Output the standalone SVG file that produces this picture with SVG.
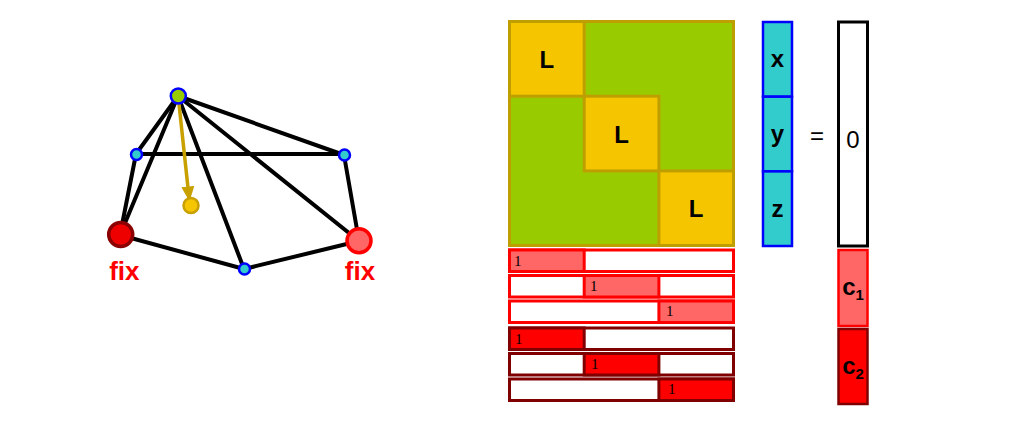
<svg xmlns="http://www.w3.org/2000/svg" width="1014" height="431" viewBox="0 0 1014 431">
<style>
.edge{stroke:#000;stroke-width:4;stroke-linecap:round;fill:none}
.vtx{fill:#33cccc;stroke:#0000ff;stroke-width:2.5}
.lbl{font-family:"Liberation Sans",Arial,sans-serif;font-weight:bold;text-anchor:middle}
.fix{fill:#ff0000;font-size:26px}
.blk{stroke:#bf9f00;stroke-width:3}
.one{font-family:"Liberation Serif","Times New Roman",serif;font-size:15px;fill:#000}
.r1{stroke:#ff0000;stroke-width:3;fill:#fff}
.r1f{stroke:#ff0000;stroke-width:3;fill:#ff6666}
.r2{stroke:#800000;stroke-width:3;fill:#fff}
.r2f{stroke:#800000;stroke-width:3;fill:#ff0000}
</style>
<defs>
<marker id="ah" viewBox="0 0 10 10" refX="9" refY="5" markerWidth="15" markerHeight="13" orient="auto" markerUnits="userSpaceOnUse" preserveAspectRatio="none">
<path d="M0,0 L10,5 L0,10 z" fill="#c8a000"/>
</marker>
</defs>
<rect width="1014" height="431" fill="#fff"/>
<g id="connectors">
<line class="edge" x1="178" y1="96" x2="136" y2="154"/>
<line class="edge" x1="178" y1="96" x2="120" y2="235"/>
<line class="edge" x1="178" y1="96" x2="244" y2="269"/>
<line class="edge" x1="178" y1="96" x2="359" y2="241"/>
<line class="edge" x1="178" y1="96" x2="344" y2="155"/>
<line class="edge" x1="136" y1="154" x2="344" y2="154"/>
<line class="edge" x1="136" y1="154" x2="120" y2="235"/>
<line class="edge" x1="344" y1="155" x2="359" y2="241"/>
<line class="edge" x1="120" y1="235" x2="244" y2="269"/>
<line class="edge" x1="244" y1="269" x2="359" y2="241"/>
<line x1="179" y1="104" x2="189.3" y2="200" stroke="#c8a000" stroke-width="3.5" marker-end="url(#ah)"/>
</g>
<g id="n-top"><circle cx="178.3" cy="96" r="7.5" fill="#99cc00" stroke="#0000ff" stroke-width="2.5"/></g>
<g id="n-leftmid"><circle class="vtx" cx="136.5" cy="154.5" r="5.5"/></g>
<g id="n-rightmid"><circle class="vtx" cx="344.5" cy="155" r="5.5"/></g>
<g id="n-bottom"><circle class="vtx" cx="244.5" cy="269" r="5.5"/></g>
<g id="n-target"><circle cx="191" cy="205.5" r="7.5" fill="#f5c500" stroke="#c8a000" stroke-width="2.5"/></g>
<g id="n-fixleft">
<circle cx="120.7" cy="234.5" r="12" fill="#ee0000" stroke="#8b0000" stroke-width="3.5"/>
<text class="lbl fix" x="124.3" y="280">fix</text>
</g>
<g id="n-fixright">
<circle cx="359" cy="240.7" r="12" fill="#ff6666" stroke="#ff0000" stroke-width="3.5"/>
<text class="lbl fix" x="360" y="280">fix</text>
</g>
<g id="matrix">
<rect x="509.5" y="21.5" width="224" height="224" fill="#99cc00" class="blk"/>
<rect x="509.5" y="21.5" width="74.7" height="74.7" fill="#f5c500" class="blk"/>
<rect x="584.2" y="96.2" width="74.7" height="74.7" fill="#f5c500" class="blk"/>
<rect x="658.9" y="170.9" width="74.6" height="74.6" fill="#f5c500" class="blk"/>
<text class="lbl" x="546.8" y="68" font-size="24">L</text>
<text class="lbl" x="621.5" y="143" font-size="24">L</text>
<text class="lbl" x="696.2" y="217" font-size="24">L</text>
</g>
<g id="constraints1">
<rect class="r1" x="509.5" y="250" width="224" height="21.5"/>
<rect class="r1f" x="509.5" y="250" width="74.7" height="21.5"/>
<text class="one" x="514" y="266">1</text>
<rect class="r1" x="509.5" y="275.5" width="224" height="21.5"/>
<rect class="r1f" x="584.2" y="275.5" width="74.7" height="21.5"/>
<text class="one" x="590" y="291">1</text>
<rect class="r1" x="509.5" y="301" width="224" height="21.5"/>
<rect class="r1f" x="658.9" y="301" width="74.6" height="21.5"/>
<text class="one" x="666" y="316">1</text>
</g>
<g id="constraints2">
<rect class="r2" x="509.5" y="328" width="224" height="21.5"/>
<rect class="r2f" x="509.5" y="328" width="74.7" height="21.5"/>
<text class="one" x="515" y="344">1</text>
<rect class="r2" x="509.5" y="353.5" width="224" height="21.5"/>
<rect class="r2f" x="584.2" y="353.5" width="74.7" height="21.5"/>
<text class="one" x="591" y="369">1</text>
<rect class="r2" x="509.5" y="379" width="224" height="21.5"/>
<rect class="r2f" x="658.9" y="379" width="74.6" height="21.5"/>
<text class="one" x="668" y="394">1</text>
</g>
<g id="xyz">
<rect x="763" y="22" width="29" height="74.7" fill="#33cccc" stroke="#0000ff" stroke-width="2.5"/>
<rect x="763" y="96.7" width="29" height="74.7" fill="#33cccc" stroke="#0000ff" stroke-width="2.5"/>
<rect x="763" y="171.4" width="29" height="74.6" fill="#33cccc" stroke="#0000ff" stroke-width="2.5"/>
<text class="lbl" x="777.5" y="67" font-size="24">x</text>
<text class="lbl" x="777.5" y="142" font-size="24">y</text>
<text class="lbl" x="777.5" y="217" font-size="24">z</text>
</g>
<g id="equals"><text x="817" y="144" font-family="Liberation Sans,Arial,sans-serif" font-size="24" text-anchor="middle" fill="#000">=</text></g>
<g id="zero">
<rect x="838.5" y="22" width="29" height="224" fill="#fff" stroke="#000" stroke-width="3"/>
<text x="853" y="148" font-family="Liberation Sans,Arial,sans-serif" font-size="24" text-anchor="middle" fill="#000">0</text>
</g>
<g id="c1">
<rect x="838.5" y="250" width="29" height="76" fill="#ff6666" stroke="#ff0000" stroke-width="2.5"/>
<text class="lbl" x="853" y="295" font-size="24">c<tspan font-size="15" dy="5">1</tspan></text>
</g>
<g id="c2">
<rect x="838.5" y="329" width="29" height="75" fill="#ff0000" stroke="#800000" stroke-width="2.5"/>
<text class="lbl" x="853" y="374" font-size="24">c<tspan font-size="15" dy="5">2</tspan></text>
</g>
</svg>
